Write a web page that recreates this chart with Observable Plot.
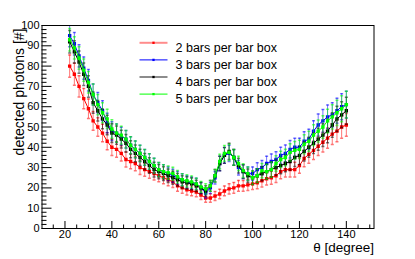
<!DOCTYPE html>
<html><head><meta charset="utf-8">
<script src="https://cdn.jsdelivr.net/npm/d3@7"></script>
<script src="https://cdn.jsdelivr.net/npm/@observablehq/plot@0.6"></script>
<style>html,body{margin:0;padding:0;background:#fff}svg{display:block}</style>
</head><body><div id="chart"></div>
<script>
const theta = [22,24,26,28,30,32,34,36,38,40,42,44,46,48,50,52,54,56,58,60,62,64,66,68,70,72,74,76,78,80,82,84,86,88,90,92,94,96,98,100,102,104,106,108,110,112,114,116,118,120,122,124,126,128,130,132,134,136,138,140];
const bars2 = [80,76,70,64,59,53,50,47,43,40, 39,37,34,33,32,30,29,28,27,26, 25,24,23,21,20,19,18.5,18,16.5,15, 15,16,17,18.5,19.5,20,21,21,21.5,22, 22.5,23.5,24.5,25,26,28,29,29,29,31, 34.5,36.5,38.5,40.5,42.5,44.5,46.5,48,50,51];
const bars3 = [95,91,85,79,73,66,62,58,52,48, 47,45.5,44,41,39,37,35,33,31,29, 28,27,26,25,24,23,22.5,22,20,17.5, 20,25,32,36,37,35,30,28,27,27, 29,30,32,33,34,36,37,39,40,40, 43,44,48,51,53,55,56,58,60,61];
const bars4 = [92,87,82,76,70,62,58,54,51,47, 46,44,42,39,37,35,33,31,29,28, 27,26,25,24,23,22.5,22,21,20,18.5, 21,26,32,36,38,35,31,28,26,25, 26,27,28,29,30,31,32,33,35,36, 38,40,42,44,46,48,51,54,56,58];
const bars5 = [93,89,84,78,72,66,61,57,54,49, 47,46,44,41,39,37,35,33,31,29, 28,27.5,27,25.5,24,23.5,23,22,20.5,19.5, 21,26,33,37,37.5,35,32,28.5,27,25, 26,28.5,28,29,32,34,35,37.5,38.5,39, 41.5,43,46,48,50,53,55,57,59,61];
const err2 = [5.5,5.4,5.2,5.0,4.8,4.6,4.5,4.3,4.2,4.0, 3.9,3.8,3.7,3.6,3.5,3.4,3.3,3.2,3.1,3.0, 3.0,2.9,2.8,2.7,2.6,2.5,2.4,2.3,2.2,2.1, 2.1,2.2,2.3,2.4,2.5,2.6,2.7,2.7,2.8,2.8, 2.9,3.0,3.1,3.2,3.3,3.5,3.6,3.6,3.6,3.8, 4.1,4.3,4.5,4.6,4.8,5.0,5.1,5.3,5.5,5.6];
const errN = [5.5,5.5,5.5,5.5,5.3,5.2,5.0,4.9,4.8,4.6, 4.5,4.4,4.3,4.2,4.1,4.0,3.9,3.8,3.6,3.5, 3.4,3.3,3.2,3.1,3.0,3.0,2.9,2.8,2.7,2.5, 2.7,3.1,3.6,3.9,4.0,3.9,3.6,3.4,3.3,3.3, 3.4,3.5,3.6,3.7,3.8,4.0,4.1,4.3,4.4,4.5, 4.7,4.9,5.1,5.4,5.6,5.8,6.0,6.2,6.4,6.6];
const seriesNames = ["2 bars per bar box","3 bars per bar box","4 bars per bar box","5 bars per bar box"];
const seriesValues = [bars2, bars3, bars4, bars5];
const seriesErrors = [err2, errN, errN, errN];
const seriesColors = ["#ff0000","#0000ff","#000000","#00ff00"];
const xLabelTicks = [20,40,60,80,100,120,140];
const xMinorTicks = [15,25,30,35,45,50,55,65,70,75,85,90,95,105,110,115,125,130,135,145,150];
const yLabelTicks = [0,10,20,30,40,50,60,70,80,90,100];
const yMinorTicks = [2,4,6,8,12,14,16,18,22,24,26,28,32,34,36,38,42,44,46,48,52,54,56,58,62,64,66,68,72,74,76,78,82,84,86,88,92,94,96,98];

const W = 415, H = 259, mL = 41.5, mR = 41.5, mT = 25, mB = 31;
const fw = W - mL - mR, fh = H - mT - mB;
const hLine = w => ({draw(ctx){ ctx.moveTo(-w/2, 0); ctx.lineTo(w/2, 0); }});

const marks = [];
seriesValues.forEach((vals, s) => {
  const rows = theta.map((t, i) => ({x: t, y: vals[i], lo: vals[i] - seriesErrors[s][i], hi: vals[i] + seriesErrors[s][i]}));
  const c = seriesColors[s];
  marks.push(
    Plot.ruleX(rows, {x: "x", y1: "lo", y2: "hi", stroke: c, strokeOpacity: 0.55, clip: true}),
    Plot.dot(rows, {x: "x", y: "hi", symbol: hLine(3), stroke: c, fill: "none", strokeOpacity: 0.55, clip: true}),
    Plot.dot(rows, {x: "x", y: "lo", symbol: hLine(3), stroke: c, fill: "none", strokeOpacity: 0.55, clip: true}),
    Plot.line(rows, {x: "x", y: "y", stroke: c, strokeWidth: 1, clip: true}),
    Plot.dot(rows, {x: "x", y: "y", symbol: "square", r: 1.9, fill: c, stroke: "none", clip: true})
  );
  const dy = 17.3 + 17.1 * s;
  marks.push(
    Plot.dot([0], {frameAnchor: "top-left", dx: 111.5, dy, symbol: hLine(28), stroke: c, fill: "none", strokeOpacity: s === 0 || s === 2 ? 0.45 : 1, strokeWidth: s === 0 || s === 2 ? 2 : 1}),
    Plot.dot([0], {frameAnchor: "top-left", dx: 111.5, dy, symbol: "square", r: 1.3, fill: c, stroke: "none"}),
    Plot.text([seriesNames[s]], {text: d => d, frameAnchor: "top-left", dx: 133.5, dy, textAnchor: "start", fontSize: 12.5, fill: "#000"})
  );
});

const chart = Plot.plot({
  width: W, height: H,
  marginLeft: mL, marginRight: mR, marginTop: mT, marginBottom: mB,
  style: {fontFamily: "'Liberation Sans', Arial, Helvetica, sans-serif", fontSize: "11px", background: "#fff", color: "#000"},
  x: {domain: [10.2, 151.8], ticks: xLabelTicks, tickSize: 0, tickPadding: 2, label: null, tickFormat: d => String(d)},
  y: {domain: [0, 100], ticks: yLabelTicks, tickSize: 0, tickPadding: 2.5, label: null, tickFormat: d => String(d)},
  marks: [
    Plot.tickX(xLabelTicks, {x: d => d, stroke: "#000", insetTop: fh - 7}),
    Plot.tickX(xMinorTicks, {x: d => d, stroke: "#000", insetTop: fh - 3.5}),
    Plot.tickY(yLabelTicks, {y: d => d, stroke: "#000", insetRight: fw - 10}),
    Plot.tickY(yMinorTicks, {y: d => d, stroke: "#000", insetRight: fw - 5}),
    ...marks,
    Plot.frame({stroke: "#000"}),
    Plot.text(["θ [degree]"], {text: d => d, frameAnchor: "bottom-right", textAnchor: "end", dy: 23.5, fontSize: 13.5, fill: "#000"}),
    Plot.text(["detected photons [#]"], {text: d => d, frameAnchor: "top-left", rotate: -90, textAnchor: "end", dx: -28, dy: 3, fontSize: 14, fill: "#000"})
  ]
});
document.getElementById("chart").appendChild(chart);
</script>
</body></html>
